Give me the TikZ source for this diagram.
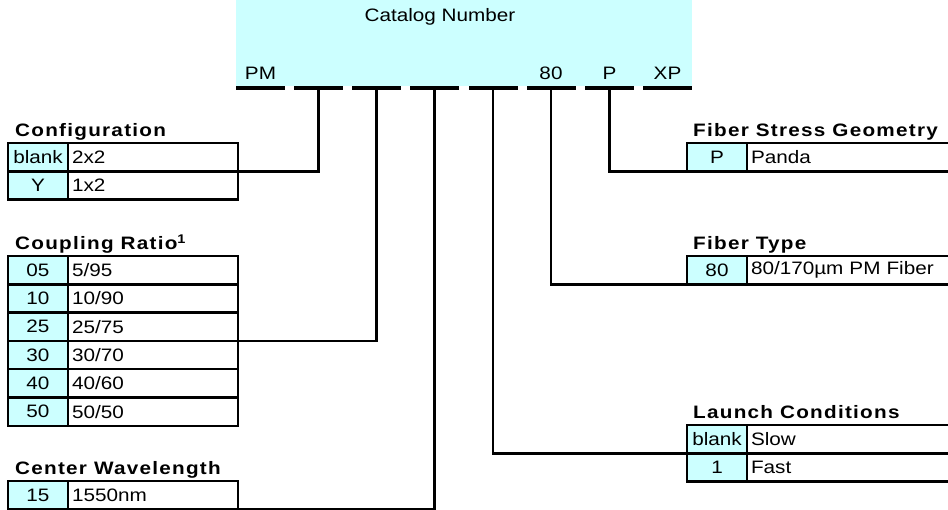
\documentclass[tikz,border=0pt]{standalone}
\usepackage{fontspec}
\setmainfont[FakeStretch=1.15,BoldFeatures={LetterSpace=7}]{Liberation Sans}
\usetikzlibrary{positioning}
\definecolor{cellcyan}{HTML}{CCFFFF}

\tikzset{
  box/.style={draw, line width=2.5pt, outer sep=0pt, inner ysep=0pt, inner xsep=4pt, minimum height=28.3pt},
  code/.style={box, fill=cellcyan, text width=52pt, align=center},
  desc/.style={box, text width=162pt, align=left},
  descr/.style={box, text width=212pt, align=left},
  bar/.style={fill=black, inner sep=0pt, outer sep=0pt, minimum width=49pt, minimum height=4pt},
  lbl/.style={inner sep=0pt},
  ttl/.style={inner sep=0pt, anchor=base west, font=\fontsize{18}{20}\selectfont\bfseries},
  conn/.style={line width=2.5pt}
}

\begin{document}
\begin{tikzpicture}[x=1pt,y=-1pt,font=\fontsize{18}{20}\selectfont]
\useasboundingbox (0,0) rectangle (948,510);
\clip (0,0) rectangle (948,510);

% catalog number header
\node[fill=cellcyan, inner sep=0pt, minimum width=456pt, minimum height=86pt] (hdr) at (464,43) {};
\node[lbl] (hdrt) at (440,17) {Catalog Number};

\node[bar] (b1) at (260.5,88) {};
\node[bar] (b2) at (318.5,88) {};
\node[bar] (b3) at (376.5,88) {};
\node[bar] (b4) at (434.5,88) {};
\node[bar] (b5) at (493,88) {};
\node[bar] (b6) at (551,88) {};
\node[bar] (b7) at (609.5,88) {};
\node[bar] (b8) at (667.5,88) {};
\node[lbl, above=6pt of b1] (pm) {PM};
\node[lbl, above=6pt of b6] (fib) {80};
\node[lbl, above=6pt of b7] (pan) {P};
\node[lbl, above=6pt of b8] (xp) {XP};

% configuration
\node[code, anchor=north west] (cfg1c) at (8,143) {blank};
\node[desc, right=0pt of cfg1c] (cfg1d) {2x2};
\node[code, below=0pt of cfg1c] (cfg2c) {Y};
\node[desc, right=0pt of cfg2c] (cfg2d) {1x2};
\node[ttl] (cfgt) at ([xshift=7pt,yshift=6pt]cfg1c.north west) {Configuration};

% coupling ratio
\node[code, anchor=north west] (cr05c) at (8,256) {05};
\node[desc, right=0pt of cr05c] (cr05d) {5/95};
\node[code, below=0pt of cr05c] (cr10c) {10};
\node[desc, right=0pt of cr10c] (cr10d) {10/90};
\node[code, below=0pt of cr10c] (cr25c) {25};
\node[desc, right=0pt of cr25c] (cr25d) {25/75};
\node[code, below=0pt of cr25c] (cr30c) {30};
\node[desc, right=0pt of cr30c] (cr30d) {30/70};
\node[code, below=0pt of cr30c] (cr40c) {40};
\node[desc, right=0pt of cr40c] (cr40d) {40/60};
\node[code, below=0pt of cr40c] (cr50c) {50};
\node[desc, right=0pt of cr50c] (cr50d) {50/50};
\node[ttl] (crt) at ([xshift=7pt,yshift=6pt]cr05c.north west) {Coupling Ratio\textsuperscript{1}};

% center wavelength
\node[code, anchor=north west] (cw15c) at (8,481) {15};
\node[desc, right=0pt of cw15c] (cw15d) {1550nm};
\node[ttl] (cwt) at ([xshift=7pt,yshift=6pt]cw15c.north west) {Center Wavelength};

% fiber stress geometry
\node[code, anchor=north west] (fsgc) at (687,143) {P};
\node[descr, right=0pt of fsgc] (fsgd) {Panda};
\node[ttl] (fsgt) at ([xshift=6pt,yshift=6pt]fsgc.north west) {Fiber Stress Geometry};

% fiber type
\node[code, anchor=north west] (ftc) at (687,256) {80};
\node[descr, right=0pt of ftc] (ftd) {80/170µm PM Fiber};
\node[ttl] (ftt) at ([xshift=6pt,yshift=6pt]ftc.north west) {Fiber Type};

% launch conditions
\node[code, anchor=north west] (lc1c) at (687,425) {blank};
\node[descr, right=0pt of lc1c] (lc1d) {Slow};
\node[code, below=0pt of lc1c] (lc2c) {1};
\node[descr, right=0pt of lc2c] (lc2d) {Fast};
\node[ttl] (lct) at ([xshift=6pt,yshift=6pt]lc1c.north west) {Launch Conditions};

% connectors
\draw[conn] (b2.south) |- (cfg1d.south east);
\draw[conn] (b3.south) |- (cr25d.south east);
\draw[conn] (b4.south) |- (cw15d.south east);
\draw[conn] (b5.south) |- (lc1c.south west);
\draw[conn] (b6.south) |- (ftc.south west);
\draw[conn] (b7.south) |- (fsgc.south west);
\end{tikzpicture}
\end{document}
